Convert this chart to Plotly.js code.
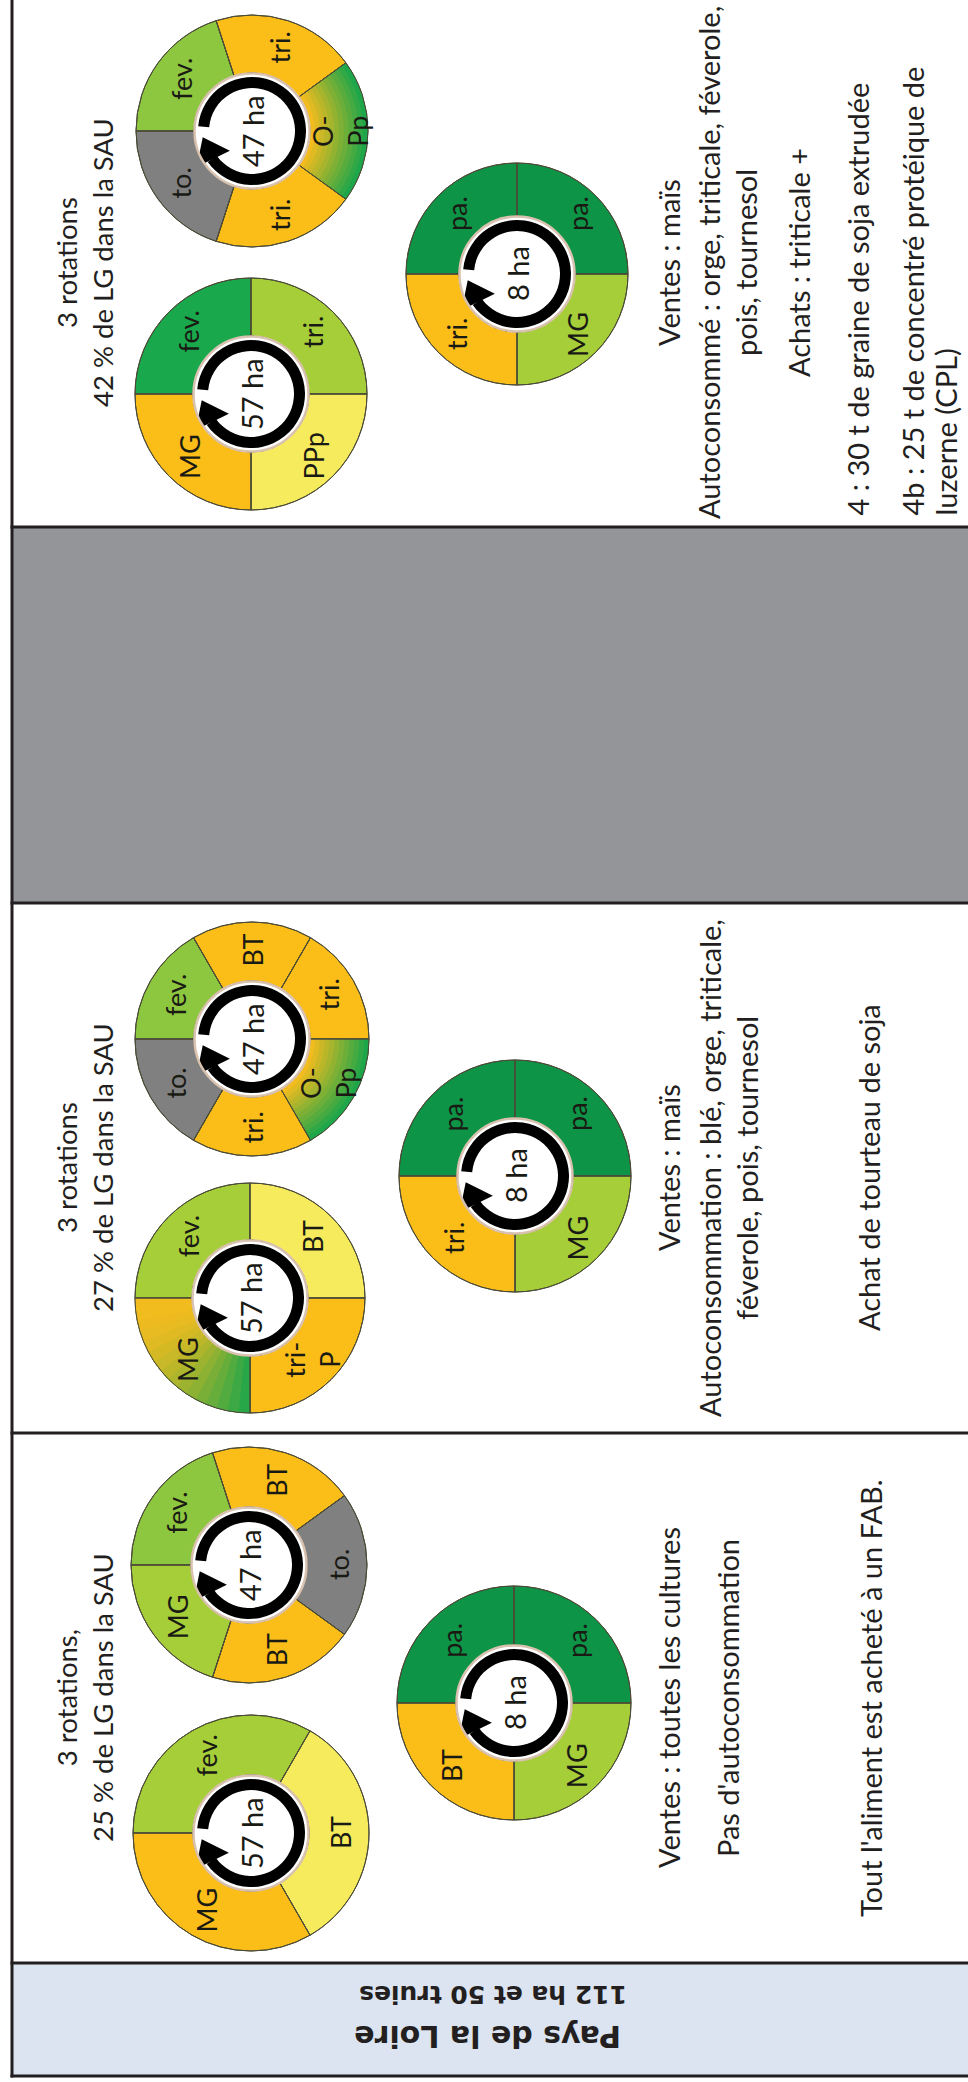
<!DOCTYPE html>
<html lang="fr">
<head>
<meta charset="utf-8">
<script src="https://cdn.plot.ly/plotly-3.0.1.min.js"></script>
<style>
html,body{margin:0;padding:0;background:#ffffff;}
#chart{width:968px;height:2082px;}
</style>
</head>
<body>
<div id="chart"></div>
<script>
// ================= DATA =================
const regionTitle = 'Pays de la Loire';
const farmSummary = '112 ha et 50 truies';

const rotationTitles = [
  ['3 rotations', '42 % de LG dans la SAU'],
  ['3 rotations', '27 % de LG dans la SAU'],
  ['3 rotations,', '25 % de LG dans la SAU']
];

// total area (ha) of each rotation wheel
const wheelAreas = [47, 57, 8, 47, 57, 8, 47, 57, 8];

// crops of each wheel, clockwise from 9 o'clock
const crops1a = ['fev.', 'tri.', 'O-<br>Pp', 'tri.', 'to.'];
const crops1b = ['fev.', 'tri.', 'PPp', 'MG'];
const crops1c = ['pa.', 'pa.', 'MG', 'tri.'];
const crops2a = ['fev.', 'BT', 'tri.', 'O-<br>Pp', 'tri.', 'to.'];
const crops2b = ['fev.', 'BT', 'tri-<br>P', 'MG'];
const crops2c = ['pa.', 'pa.', 'MG', 'tri.'];
const crops3a = ['fev.', 'BT', 'to.', 'BT', 'MG'];
const crops3b = ['fev.', 'BT', 'MG'];
const crops3c = ['pa.', 'pa.', 'MG', 'BT'];

// share (years) of each crop in its wheel
const shares1a = [1, 1, 1, 1, 1];
const shares1b = [1, 1, 1, 1];
const shares1c = [1, 1, 1, 1];
const shares2a = [1, 1, 1, 1, 1, 1];
const shares2b = [1, 1, 1, 1];
const shares2c = [1, 1, 1, 1];
const shares3a = [1, 1, 1, 1, 1];
const shares3b = [1, 1, 1];
const shares3c = [1, 1, 1, 1];

const notes1 = ['Ventes : maïs', 'Autoconsommé : orge, triticale, féverole,', 'pois, tournesol', 'Achats : triticale +'];
const feed1 = ['4 : 30 t de graine de soja extrudée', '4b : 25 t de concentré protéique de', 'luzerne (CPL)'];
const notes2 = ['Ventes : maïs', 'Autoconsommation : blé, orge, triticale,', 'féverole, pois, tournesol'];
const feed2 = ['Achat de tourteau de soja'];
const notes3 = ['Ventes : toutes les cultures', "Pas d'autoconsommation"];
const feed3 = ["Tout l'aliment est acheté à un FAB."];

// ================= STYLE / LAYOUT =================
const W = 968, H = 2082;
const BODY = 'Lato, "Open Sans", sans-serif';
const HEAD = '"DejaVu Sans", Verdana, sans-serif';
const INK = '#231f20';
const LBL = '#1a1a14';
const PAL = {
  orange: '#fbbd18', yellow: '#f5eb5c', lime: '#a6ce39', fgreen: '#8dc63f',
  green: '#19a84b', dgreen: '#0e9446', grey: '#808080'
};
const G_ORANGE = [243, 188, 30], G_GREEN = [30, 166, 74];
const EDGE = '#4a4a36';

const cropsList = [crops1a, crops1b, crops1c, crops2a, crops2b, crops2c, crops3a, crops3b, crops3c];
const sharesList = [shares1a, shares1b, shares1c, shares2a, shares2b, shares2c, shares3a, shares3b, shares3c];
const WHEEL_POS = [
  [252, 131, 116], [251, 394, 116], [517, 274, 111],
  [252, 1039, 117], [250, 1298, 115], [515, 1176, 116],
  [249, 1565, 118], [251, 1833, 118], [514, 1703, 117]
];
const WHEEL_FILL = [
  ['fgreen', 'orange', 'gradR', 'orange', 'grey'],
  ['green', 'lime', 'yellow', 'orange'],
  ['dgreen', 'dgreen', 'lime', 'orange'],
  ['fgreen', 'orange', 'orange', 'gradR', 'orange', 'grey'],
  ['lime', 'yellow', 'orange', 'gradA'],
  ['dgreen', 'dgreen', 'lime', 'orange'],
  ['fgreen', 'orange', 'grey', 'orange', 'lime'],
  ['lime', 'yellow', 'orange'],
  ['dgreen', 'dgreen', 'lime', 'orange']
];
const START = 270;          // first slice starts at 9 o'clock
const R_IN = 58;            // inner radius of coloured ring
const RING_IN = 43, RING_OUT = 54, DISC_R = 57.5;
const CELL_Y = [263, 1168, 1698];
const TITLE_X = 84;
const NOTE_X = [[668, 708, 745, 798], [668, 709, 746], [668, 727]];
const FEED_X = [[857, 912, 945], [868], [870]];
const BODY_SIZE = 29;

function mix(a, b, t) {
  return 'rgb(' + a.map((v, i) => Math.round(v + (b[i] - v) * t)).join(',') + ')';
}
function norm(a) { a = a % 360; return a < 0 ? a + 360 : a; }
function dom(cx, cy, r) {
  return {x: [(cx - r) / W, (cx + r) / W], y: [1 - (cy + r) / H, 1 - (cy - r) / H]};
}
function arcTrace(cx, cy, rIn, rOut, start, span, color) {
  return {
    type: 'pie', values: [span, 360 - span], labels: ['a', 'b'], sort: false,
    direction: 'clockwise', rotation: norm(start), hole: rIn / rOut,
    marker: {colors: [color, 'rgba(0,0,0,0)'], line: {width: 0}},
    textinfo: 'none', hoverinfo: 'skip', showlegend: false, domain: dom(cx, cy, rOut)
  };
}

const traces = [];
const annotations = [];
const shapes = [];
const headX = [], headY = [];

// table cells
shapes.push({type: 'rect', xref: 'x', yref: 'y', x0: 12, x1: W, y0: 527, y1: 903,
  fillcolor: '#939598', line: {width: 0}, layer: 'below'});
shapes.push({type: 'rect', xref: 'x', yref: 'y', x0: 12, x1: W, y0: 1963, y1: 2076,
  fillcolor: '#dbe4f0', line: {width: 0}, layer: 'below'});
[527, 903, 1433, 1963, 2076].forEach(y => shapes.push({type: 'line', xref: 'x', yref: 'y',
  x0: 10.5, x1: W, y0: y, y1: y, line: {color: INK, width: 3}, layer: 'below'}));
shapes.push({type: 'line', xref: 'x', yref: 'y', x0: 12, x1: 12, y0: 0, y1: 2077.5,
  line: {color: INK, width: 3}, layer: 'below'});

// wheels
cropsList.forEach((crops, d) => {
  const [cx, cy, R] = WHEEL_POS[d];
  const vals = sharesList[d];
  const fills = WHEEL_FILL[d];
  const total = vals.reduce((a, b) => a + b, 0);
  const uniq = crops.map((c, i) => c.replace('<br>', '') + ' (' + (i + 1) + ')');
  const base = fills.map(f => (f === 'gradR' || f === 'gradA') ? mix(G_ORANGE, G_GREEN, 0.6) : PAL[f]);
  traces.push({
    type: 'pie', labels: uniq, values: vals, sort: false, direction: 'clockwise',
    rotation: START, hole: R_IN / R, domain: dom(cx, cy, R),
    marker: {colors: base, line: {color: EDGE, width: 1}},
    textinfo: 'none', hoverinfo: 'label', showlegend: false
  });
  let acc = 0;
  vals.forEach((v, i) => {
    const a0 = START + acc / total * 360;
    const span = v / total * 360;
    acc += v;
    if (fills[i] === 'gradR') {
      const N = 12;
      for (let j = 0; j < N; j++) {
        const rOut = R - j * (R - R_IN) / N;
        traces.push(arcTrace(cx, cy, R_IN, rOut, a0, span, mix(G_GREEN, G_ORANGE, j / (N - 1))));
      }
    } else if (fills[i] === 'gradA') {
      const N = 16;
      for (let j = 0; j < N; j++) {
        const s = a0 + j * span / N;
        const t = Math.sin((j + 0.5) / N * Math.PI / 2);
        traces.push(arcTrace(cx, cy, R_IN, R, s, a0 + span - s, mix(G_GREEN, G_ORANGE, t)));
      }
    }
    const mid = (a0 + span / 2) * Math.PI / 180;
    const rl = (R_IN + R) / 2 + 1;
    annotations.push({
      x: cx + rl * Math.sin(mid), y: cy - rl * Math.cos(mid), xref: 'x', yref: 'y',
      text: crops[i], showarrow: false, textangle: -90,
      font: {family: BODY, size: 27, color: LBL}
    });
  });
  // slice outlines on top
  traces.push({
    type: 'pie', labels: uniq, values: vals, sort: false, direction: 'clockwise',
    rotation: START, hole: R_IN / R, domain: dom(cx, cy, R),
    marker: {colors: vals.map(() => 'rgba(0,0,0,0)'), line: {color: EDGE, width: 1}},
    textinfo: 'none', hoverinfo: 'skip', showlegend: false
  });
  // circular arrow
  traces.push(arcTrace(cx, cy, RING_IN, RING_OUT, 275, 320, '#000000'));
  const th = 206 * Math.PI / 180, rh = 47;
  headX.push(cx + rh * Math.cos(th));
  headY.push(cy - rh * Math.sin(th));
  shapes.push({type: 'circle', xref: 'x', yref: 'y', x0: cx - DISC_R, x1: cx + DISC_R,
    y0: cy - DISC_R, y1: cy + DISC_R, line: {color: '#d9c3b0', width: 2.5},
    fillcolor: 'rgba(0,0,0,0)', layer: 'above'});
  annotations.push({x: cx, y: cy, xref: 'x', yref: 'y', text: wheelAreas[d] + ' ha',
    showarrow: false, textangle: -90, font: {family: BODY, size: 29, color: LBL}});
});

traces.push({
  type: 'scatter', mode: 'markers', x: headX, y: headY, hoverinfo: 'skip', showlegend: false,
  marker: {symbol: 'triangle-up', size: 32, angle: -26, color: '#000000', line: {width: 0}}
});

// column texts
const notesList = [notes1, notes2, notes3];
const feedList = [feed1, feed2, feed3];
rotationTitles.forEach((t, c) => {
  annotations.push({x: TITLE_X, y: CELL_Y[c], xref: 'x', yref: 'y', text: t.join('<br>'),
    showarrow: false, textangle: -90, align: 'center', font: {family: BODY, size: 27.5, color: INK}});
  notesList[c].forEach((line, k) => annotations.push({x: NOTE_X[c][k], y: CELL_Y[c], xref: 'x', yref: 'y',
    text: line, showarrow: false, textangle: -90, font: {family: BODY, size: BODY_SIZE, color: INK}}));
  feedList[c].forEach((line, k) => {
    const a = {x: FEED_X[c][k], y: CELL_Y[c], xref: 'x', yref: 'y', text: line, showarrow: false,
      textangle: -90, font: {family: BODY, size: BODY_SIZE, color: INK}};
    if (c === 0) { a.y = 518; a.yanchor = 'bottom'; }
    annotations.push(a);
  });
});

// header cell (upside down)
annotations.push({x: 493, y: 1995, xref: 'x', yref: 'y', text: '<b>' + farmSummary + '</b>',
  showarrow: false, textangle: 180, font: {family: HEAD, size: 25, color: INK}});
annotations.push({x: 488, y: 2037, xref: 'x', yref: 'y', text: '<b>' + regionTitle + '</b>',
  showarrow: false, textangle: 180, font: {family: HEAD, size: 30, color: INK}});

const layout = {
  width: W, height: H, margin: {l: 0, r: 0, t: 0, b: 0},
  paper_bgcolor: '#ffffff', plot_bgcolor: 'rgba(0,0,0,0)', showlegend: false,
  xaxis: {range: [0, W], visible: false, fixedrange: true},
  yaxis: {range: [H, 0], visible: false, fixedrange: true},
  shapes: shapes, annotations: annotations, font: {family: BODY}
};
Plotly.newPlot('chart', traces, layout, {staticPlot: true, displayModeBar: false});
</script>
</body>
</html>
